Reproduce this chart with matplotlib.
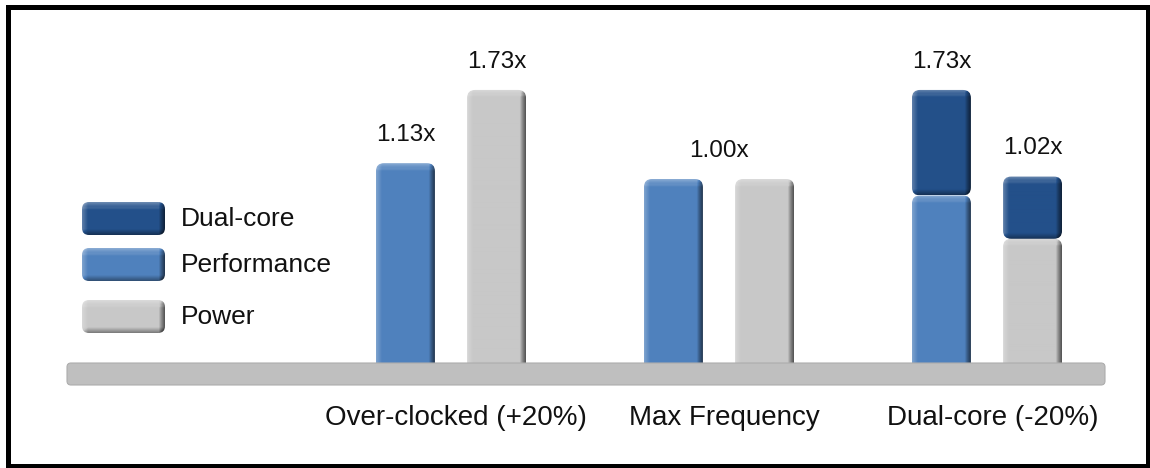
#!/usr/bin/env python3
"""Performance vs. power: over-clocking, max frequency and a dual-core part at -20% clock."""
import matplotlib

matplotlib.use("Agg")
import matplotlib.pyplot as plt  # noqa: E402
import numpy as np  # noqa: E402
from matplotlib.colors import to_rgb  # noqa: E402
from matplotlib.patches import FancyBboxPatch, Rectangle  # noqa: E402

CATEGORIES = ["Over-clocked (+20%)", "Max Frequency", "Dual-core (-20%)"]
PERF_ONE_CORE = [1.13, 1.00, 0.865]
POWER_ONE_CORE = [1.73, 1.00, 0.51]
PERF_SECOND_CORE = [0.0, 0.0, 0.865]
POWER_SECOND_CORE = [0.0, 0.0, 0.51]
LEGEND_LABELS = ["Dual-core", "Performance", "Power"]

C_DUAL = "#23508a"
C_PERF = "#4f81bd"
C_POWER = "#c8c8c8"
C_BASE = "#bfbfbf"

W_PX, H_PX, DPI = 1150, 468, 100
X0_PX, X_STEP = 451.0, 268.0      # px of first category, px per category
BASE_PX = 362.0                   # top edge of the grey plinth (px from top)
FLOOR = -0.5                      # bars grow out of the plinth from here
Y_STEP = 122.0                    # px per unit of ratio
OFF, BAR_W = 0.17, 0.22
SINK = 10.0                       # px of bar hidden under the plinth


def bevel(color, w_px, h_px, round_bottom=True, b=6.0):
    """Soft bevel: lit left/top edges, shaded right/bottom edges."""
    w = max(int(round(w_px)), 2)
    h = max(int(round(h_px)), 2)
    base = np.array(to_rgb(color))
    x = np.arange(w)[None, :] + 0.5
    y = np.arange(h)[:, None] + 0.5

    def ramp(d):
        return np.clip(1 - d / b, 0, 1)

    s = np.zeros((h, w))
    s = s + 0.28 * ramp(x)
    s = s - 0.60 * ramp(w - x) ** 0.8
    s = s + 0.35 * ramp(y)
    if round_bottom:
        s = s - 0.40 * ramp(h - y)
    s = s + 0.10 * np.exp(-((y - b) / 1.3) ** 2)
    s = np.clip(s, -0.8, 0.8)
    light = base + (1 - base) * np.clip(s, 0, None)[..., None]
    return np.clip(light * (1 + np.clip(s, None, 0))[..., None], 0, 1)


def box(ax, x0, y0, w, h, color, sx, sy, r=8.0, round_bottom=True, z=3):
    img = bevel(color, w * sx, h * sy, round_bottom)
    im = ax.imshow(img, extent=(x0, x0 + w, y0, y0 + h), origin="upper",
                   aspect="auto", interpolation="bilinear", zorder=z)
    clip = FancyBboxPatch((x0, y0), w, h,
                          boxstyle=f"round,pad=0,rounding_size={r / sx}",
                          mutation_aspect=sx / sy, fc="none", ec="none", zorder=z)
    ax.add_patch(clip)
    im.set_clip_path(clip)


def main():
    plt.rcParams.update({"font.family": ["Liberation Sans", "DejaVu Sans"]})
    fig = plt.figure(figsize=(W_PX / DPI, H_PX / DPI), dpi=DPI)
    fig.patch.set_facecolor("white")

    ax = fig.add_axes([0, 0, 1, 1], zorder=1)
    ax.axis("off")

    x = np.arange(len(CATEGORIES))
    perf1 = np.array(PERF_ONE_CORE)
    pow1 = np.array(POWER_ONE_CORE)
    perf2 = np.array(PERF_SECOND_CORE)
    pow2 = np.array(POWER_SECOND_CORE)

    # bars laid out by matplotlib, then re-skinned with a bevel
    layers = [
        (ax.bar(x - OFF, perf1 - FLOOR, BAR_W, bottom=FLOOR, visible=False), C_PERF, True),
        (ax.bar(x + OFF, pow1 - FLOOR, BAR_W, bottom=FLOOR, visible=False), C_POWER, True),
        (ax.bar(x - OFF, perf2, BAR_W, bottom=perf1, visible=False), C_DUAL, False),
        (ax.bar(x + OFF, pow2, BAR_W, bottom=pow1, visible=False), C_DUAL, False),
    ]
    for bars, color, grounded in layers:
        for rect in bars:
            h = rect.get_height()
            if h <= 0:
                continue
            y0 = rect.get_y()
            if grounded:
                y0 -= SINK / Y_STEP
                h += SINK / Y_STEP
            box(ax, rect.get_x(), y0, rect.get_width(), h, color,
                X_STEP, Y_STEP, round_bottom=not grounded)

    # value labels
    perf_tot = perf1 + perf2
    pow_tot = pow1 + pow2
    lbl = dict(textcoords="offset points", xytext=(0, 16), ha="center",
               va="baseline", fontsize=17.5, color="#111111")
    for i in x:
        if np.isclose(perf_tot[i], pow_tot[i]):
            ax.annotate(f"{perf_tot[i]:.2f}x", (x[i], perf_tot[i]), **lbl)
        else:
            ax.annotate(f"{perf_tot[i]:.2f}x", (x[i] - OFF, perf_tot[i]), **lbl)
            ax.annotate(f"{pow_tot[i]:.2f}x", (x[i] + OFF, pow_tot[i]), **lbl)

    # category names under the plinth
    for i, name in enumerate(CATEGORIES):
        ax.text(x[i] + 0.02, 1 - 425 / H_PX, name, transform=ax.get_xaxis_transform(),
                ha="center", va="baseline", fontsize=20, color="#111111")

    ax.set_xlim(-X0_PX / X_STEP, (W_PX - X0_PX) / X_STEP)
    ax.set_ylim(FLOOR - (H_PX - BASE_PX) / Y_STEP, FLOOR + BASE_PX / Y_STEP)

    # ---------------------------------------------- overlay in pixel units
    deco = fig.add_axes([0, 0, 1, 1], zorder=2)
    deco.set_xlim(0, W_PX)
    deco.set_ylim(0, H_PX)
    deco.axis("off")
    deco.patch.set_alpha(0)

    deco.add_patch(FancyBboxPatch((67, H_PX - 385), 1038, 22,
                                  boxstyle="round,pad=0,rounding_size=4",
                                  fc=C_BASE, ec="#adadad", lw=0.8, zorder=2))

    # legend
    for label, color, top in zip(LEGEND_LABELS, [C_DUAL, C_PERF, C_POWER], [202, 248, 300]):
        box(deco, 82, H_PX - top - 33, 83, 33, color, 1.0, 1.0, r=7)
        deco.text(181, H_PX - top - 16.5, label, ha="left", va="center",
                  fontsize=19, color="#111111")

    deco.add_patch(Rectangle((7.5, 2.5), 1140, 459, fc="none", ec="black",
                             lw=3.6, zorder=5, clip_on=False))
    deco.set_xlim(0, W_PX)
    deco.set_ylim(0, H_PX)

    fig.savefig("out.png", dpi=DPI, facecolor="white")
    plt.close(fig)


if __name__ == "__main__":
    main()
